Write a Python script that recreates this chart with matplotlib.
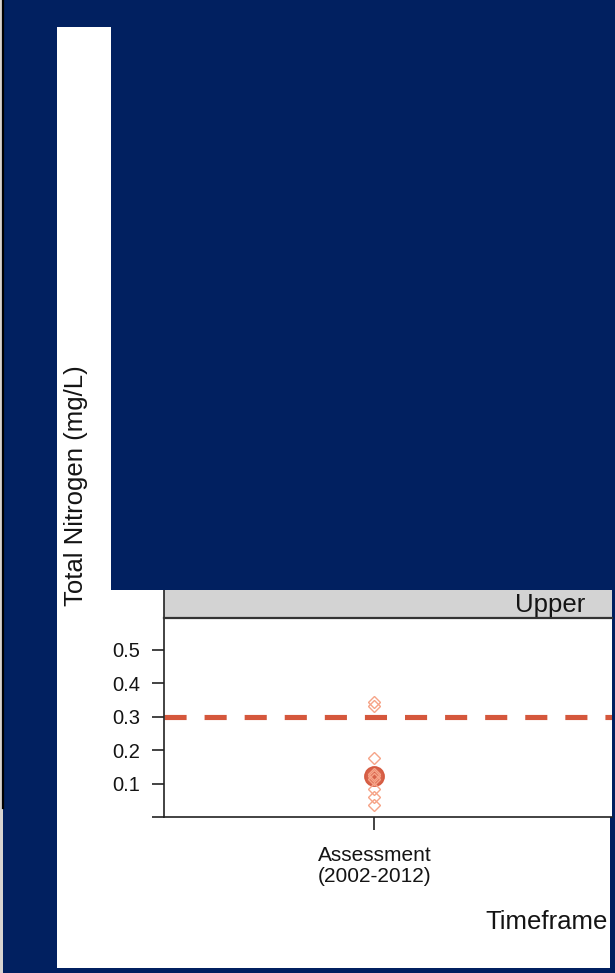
import matplotlib.pyplot as plt
from matplotlib.patches import Rectangle
from matplotlib.lines import Line2D

plt.rcParams['font.family'] = ['Liberation Sans', 'DejaVu Sans']

# data
timeframes = ['Assessment\n(2002-2012)']
region = 'Upper'
samples = [0.345, 0.333, 0.175, 0.130, 0.122, 0.115, 0.084, 0.060, 0.037]
site_mean = [0.124]
criterion = 0.3
y_ticks = [0.0, 0.1, 0.2, 0.3, 0.4, 0.5]
y_tick_labels = ['', '0.1', '0.2', '0.3', '0.4', '0.5']

NAVY = '#012060'
INK = '#141414'
W, H = 615, 973


def box(x0, y0, x1, y1):
    # pixel box (top-left origin) -> figure fraction [left, bottom, width, height]
    return [x0 / W, 1 - y1 / H, (x1 - x0) / W, (y1 - y0) / H]


fig = plt.figure(figsize=(W / 100, H / 100), dpi=100, facecolor=NAVY)

# white page behind the panel
l, b, w, h = box(57, 27, 610, 968)
fig.add_artist(Rectangle((l, b), w, h, transform=fig.transFigure,
                         facecolor='white', edgecolor='none', zorder=0))

# left window edge
fig.add_artist(Rectangle((0, 0), 2.5 / W, 1, transform=fig.transFigure,
                         facecolor='#d8d4d0', edgecolor='none', zorder=0))
fig.add_artist(Line2D([3.3 / W, 3.3 / W], [1 - 808 / H, 1], transform=fig.transFigure,
                      color='black', lw=1.6, zorder=5))

ax = fig.add_axes(box(164, 618, 612, 817))
ax.set_facecolor('white')
ax.axhline(criterion, color='#d5573c', lw=3.7, dashes=(4.3, 3.5), zorder=2)
ax.plot([0] * len(site_mean), site_mean, linestyle='none', marker='o', ms=14,
        color='#d4553a', alpha=0.92, zorder=3)
ax.plot([0] * len(samples), samples, linestyle='none', marker='D', ms=5.8,
        mfc='none', mec='#f6a488', mew=1.0, zorder=4)

ax.set_xlim(-1.0, 1.13)
ax.set_ylim(0, 0.595)
ax.set_xticks([0])
ax.set_xticklabels(timeframes, fontsize=15, color=INK, linespacing=1.15)
ax.set_yticks(y_ticks)
ax.set_yticklabels(y_tick_labels, fontsize=14.5, color=INK)
ax.tick_params(axis='both', length=9, width=1.2, color='#222222', pad=8)
ax.tick_params(axis='x', pad=12)
for side in ['top', 'right']:
    ax.spines[side].set_visible(False)
for side in ['left', 'bottom']:
    ax.spines[side].set_color('#222222')
    ax.spines[side].set_linewidth(1.2)

# facet strip
strip = fig.add_axes(box(164, 590, 612, 618))
strip.set_facecolor('#d3d3d3')
strip.set_xticks([])
strip.set_yticks([])
for side in ['top', 'right']:
    strip.spines[side].set_visible(False)
strip.spines['left'].set_color('#222222')
strip.spines['left'].set_linewidth(1.2)
strip.spines['bottom'].set_color('#333333')
strip.spines['bottom'].set_linewidth(1.6)
strip.text(0.862, 0.45, region, transform=strip.transAxes, ha='center', va='center',
           fontsize=18.5, color=INK)

# axis titles
fig.text(76 / W, 1 - 486 / H, 'Total Nitrogen (mg/L)', rotation=90,
         ha='center', va='center', fontsize=18.5, color=INK)
fig.text(608 / W, 1 - 922 / H, 'Timeframe', ha='right', va='center',
         fontsize=18.5, color=INK)

# navy block over the upper part
l, b, w, h = box(111, 0, 615, 590)
fig.add_artist(Rectangle((l, b), w, h, transform=fig.transFigure,
                         facecolor=NAVY, edgecolor='none', zorder=10))

fig.savefig('out.png', dpi=100, facecolor=NAVY)
